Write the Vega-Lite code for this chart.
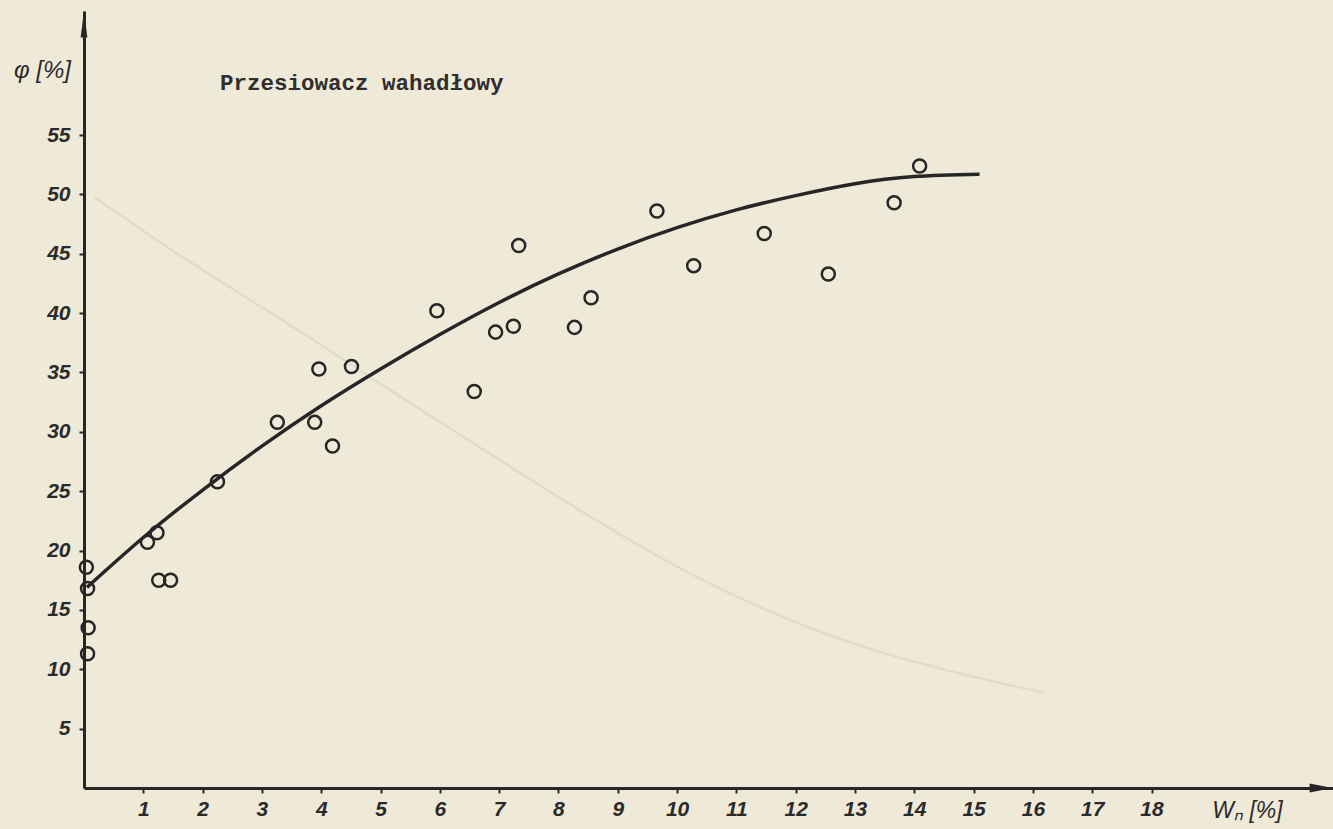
{
  "$schema": "https://vega.github.io/schema/vega-lite/v6.json",
  "width": 1249,
  "height": 777,
  "autosize": {"type": "none"},
  "padding": {"left": 84, "top": 11, "right": 0, "bottom": 41},
  "background": "#efe9d8",
  "title": {
    "text": "Przesiowacz wahadłowy",
    "anchor": "start",
    "frame": "group",
    "dx": 136,
    "dy": 88,
    "font": "Liberation Mono",
    "fontSize": 22.5,
    "fontWeight": "bold",
    "color": "#2e2e2e"
  },
  "config": {
    "view": {"stroke": null},
    "axis": {
      "grid": false,
      "domainColor": "#262626",
      "domainWidth": 3,
      "tickColor": "#262626",
      "tickWidth": 2,
      "tickSize": 5,
      "labelFont": "Liberation Sans",
      "labelFontStyle": "italic",
      "labelFontWeight": "bold",
      "labelColor": "#2a2a2a",
      "titleFont": "Liberation Sans",
      "titleFontStyle": "italic",
      "titleFontWeight": "normal",
      "titleColor": "#2a2a2a"
    }
  },
  "datasets": {
    "pts": [
      {"w": 0.04, "phi": 18.6}, {"w": 0.06, "phi": 16.8}, {"w": 0.07, "phi": 13.5}, {"w": 0.06, "phi": 11.3},
      {"w": 1.07, "phi": 20.7}, {"w": 1.23, "phi": 21.5}, {"w": 1.26, "phi": 17.5}, {"w": 1.46, "phi": 17.5},
      {"w": 2.25, "phi": 25.8}, {"w": 3.26, "phi": 30.8}, {"w": 3.89, "phi": 30.8}, {"w": 4.19, "phi": 28.8},
      {"w": 3.96, "phi": 35.3}, {"w": 4.51, "phi": 35.5}, {"w": 5.95, "phi": 40.2}, {"w": 6.58, "phi": 33.4},
      {"w": 6.94, "phi": 38.4}, {"w": 7.24, "phi": 38.9}, {"w": 7.33, "phi": 45.7}, {"w": 8.27, "phi": 38.8},
      {"w": 8.55, "phi": 41.3}, {"w": 9.66, "phi": 48.6}, {"w": 10.28, "phi": 44.0}, {"w": 11.47, "phi": 46.7},
      {"w": 12.55, "phi": 43.3}, {"w": 13.66, "phi": 49.3}, {"w": 14.09, "phi": 52.4}
    ],
    "fit": [
      {"w": 0.05, "phi": 16.9}, {"w": 1.0, "phi": 21.1}, {"w": 2.0, "phi": 25.1},
      {"w": 3.0, "phi": 28.8}, {"w": 4.0, "phi": 32.2}, {"w": 5.0, "phi": 35.3},
      {"w": 6.0, "phi": 38.2}, {"w": 7.0, "phi": 40.9}, {"w": 8.0, "phi": 43.3}, {"w": 9.0, "phi": 45.4},
      {"w": 10.0, "phi": 47.2}, {"w": 11.0, "phi": 48.7}, {"w": 12.0, "phi": 49.9}, {"w": 13.0, "phi": 50.9},
      {"w": 14.0, "phi": 51.5}, {"w": 15.1, "phi": 51.7}
    ],
    "ghost": [
      {"w": 0.17, "phi": 49.8}, {"w": 1.69, "phi": 44.5}, {"w": 3.37, "phi": 39.4}, {"w": 4.82, "phi": 34.6},
      {"w": 6.17, "phi": 30.3}, {"w": 7.86, "phi": 24.9}, {"w": 10.22, "phi": 17.7}, {"w": 13.0, "phi": 11.6},
      {"w": 16.2, "phi": 8.0}
    ],
    "arrows": [
      {"w": 0, "phi": 64.35, "dir": "up"},
      {"w": 20.86, "phi": 0, "dir": "right"}
    ]
  },
  "layer": [
    {
      "data": {"name": "ghost"},
      "mark": {"type": "line", "interpolate": "basis", "color": "#e2ddcb", "strokeWidth": 2.5},
      "encoding": {
        "x": {
          "field": "w", "type": "quantitative",
          "scale": {"domain": [0, 21.06], "nice": false, "zero": false},
          "axis": {
            "values": [1,2,3,4,5,6,7,8,9,10,11,12,13,14,15,16,17,18],
            "format": "d",
            "labelFontSize": 21,
            "labelPadding": 5,
            "title": "Wₙ [%]",
            "titleFontSize": 23,
            "titleX": 1163,
            "titleY": 22,
            "titleAlign": "center",
            "titleBaseline": "middle"
          }
        },
        "y": {
          "field": "phi", "type": "quantitative",
          "scale": {"domain": [0, 65.45], "nice": false},
          "axis": {
            "values": [5,10,15,20,25,30,35,40,45,50,55],
            "format": "d",
            "labelFontSize": 21,
            "labelPadding": 9,
            "title": "φ [%]",
            "titleFontSize": 24,
            "titleAngle": 0,
            "titleX": -42,
            "titleY": 59,
            "titleAlign": "center",
            "titleBaseline": "middle"
          }
        }
      }
    },
    {
      "data": {"name": "fit"},
      "mark": {"type": "line", "interpolate": "natural", "color": "#262626", "strokeWidth": 3.5},
      "encoding": {
        "x": {"field": "w", "type": "quantitative"},
        "y": {"field": "phi", "type": "quantitative"}
      }
    },
    {
      "data": {"name": "pts"},
      "mark": {"type": "point", "shape": "circle", "filled": false, "size": 170, "stroke": "#262626", "strokeWidth": 2.5, "opacity": 1},
      "encoding": {
        "x": {"field": "w", "type": "quantitative"},
        "y": {"field": "phi", "type": "quantitative"}
      }
    },
    {
      "data": {"name": "arrows"},
      "transform": [{"filter": "datum.dir === 'up'"}],
      "mark": {"type": "point", "shape": "M0,-1L0.25,1L-0.25,1Z", "filled": true, "size": 729, "color": "#262626", "opacity": 1, "clip": false},
      "encoding": {
        "x": {"field": "w", "type": "quantitative"},
        "y": {"field": "phi", "type": "quantitative"}
      }
    },
    {
      "data": {"name": "arrows"},
      "transform": [{"filter": "datum.dir === 'right'"}],
      "mark": {"type": "point", "shape": "M1,0L-1,-0.4L-1,0.4Z", "filled": true, "size": 529, "color": "#262626", "opacity": 1, "clip": false},
      "encoding": {
        "x": {"field": "w", "type": "quantitative"},
        "y": {"field": "phi", "type": "quantitative"}
      }
    }
  ]
}
